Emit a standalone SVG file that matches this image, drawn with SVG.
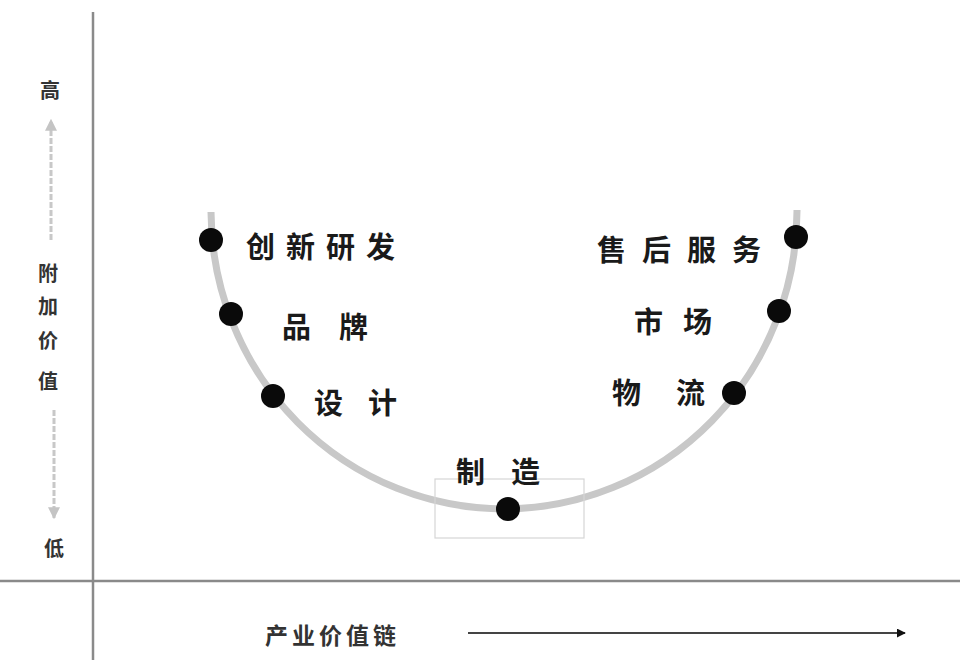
<svg xmlns="http://www.w3.org/2000/svg" width="960" height="660" viewBox="0 0 960 660">
<defs>
<style>
.lbl{font-family:"Noto Sans CJK SC","Noto Sans CJK JP",sans-serif;font-size:29px;font-weight:700;fill:#1a1a1a}
.ax{font-family:"Noto Sans CJK SC","Noto Sans CJK JP",sans-serif;font-size:20px;font-weight:700;fill:#333}
.axis{stroke:#8a8a8a;stroke-width:2.5;fill:none}
.dot{fill:#0a0a0a}
</style>
<marker id="ah" viewBox="0 0 10 10" refX="9" refY="5" markerWidth="9" markerHeight="9" markerUnits="userSpaceOnUse" orient="auto">
<path d="M0,0 L10,5 L0,10 z" fill="#111"/>
</marker>
<marker id="ahg" viewBox="0 0 10 10" refX="9" refY="5" markerWidth="12" markerHeight="12" markerUnits="userSpaceOnUse" orient="auto">
<path d="M0,0 L10,5 L0,10 z" fill="#c4c4c4"/>
</marker>
</defs>
<rect width="960" height="660" fill="#ffffff"/>
<g id="axes">
<line class="axis" x1="93" y1="12" x2="93" y2="660"/>
<line class="axis" x1="0" y1="581" x2="960" y2="581"/>
</g>
<g id="connectors">
<path d="M211,212 A293,298 0 0 0 797,210" fill="none" stroke="#c8c8c8" stroke-width="7"/>
<rect x="435" y="479" width="149" height="59" fill="none" stroke="#d6d6d6" stroke-width="1.2"/>
<line x1="51" y1="240" x2="51" y2="120" stroke="#c8c8c8" stroke-width="3" stroke-dasharray="6 2" marker-end="url(#ahg)"/>
<line x1="54" y1="410" x2="54" y2="518" stroke="#c8c8c8" stroke-width="3" stroke-dasharray="6 2" marker-end="url(#ahg)"/>
<line x1="468" y1="633" x2="905" y2="633" stroke="#444" stroke-width="2.2" marker-end="url(#ah)"/>
</g>
<g id="node-chuangxin"><circle class="dot" cx="211" cy="240" r="12"/><text class="lbl" x="246" y="258" letter-spacing="11">创新研发</text></g>
<g id="node-pinpai"><circle class="dot" cx="231" cy="314" r="12"/><text class="lbl" x="282 339" y="338">品牌</text></g>
<g id="node-sheji"><circle class="dot" cx="273" cy="396" r="12"/><text class="lbl" x="314 368" y="414">设计</text></g>
<g id="node-zhizao"><circle class="dot" cx="508" cy="509" r="12"/><text class="lbl" x="456 511" y="483">制造</text></g>
<g id="node-wuliu"><circle class="dot" cx="734" cy="393" r="12"/><text class="lbl" x="612 676" y="404">物流</text></g>
<g id="node-shichang"><circle class="dot" cx="779" cy="311" r="12"/><text class="lbl" x="634 683" y="333">市场</text></g>
<g id="node-shouhou"><circle class="dot" cx="796" cy="237" r="12"/><text class="lbl" x="597" y="261" letter-spacing="16">售后服务</text></g>
<g id="yaxis-labels">
<text class="ax" x="40" y="98">高</text>
<text class="ax" x="38" y="281">附</text>
<text class="ax" x="38" y="314">加</text>
<text class="ax" x="38" y="348">价</text>
<text class="ax" x="38" y="389">值</text>
<text class="ax" x="44" y="556">低</text>
</g>
<g id="xaxis-label"><text class="ax" x="265" y="644" style="font-size:23px" letter-spacing="4">产业价值链</text></g>
</svg>
